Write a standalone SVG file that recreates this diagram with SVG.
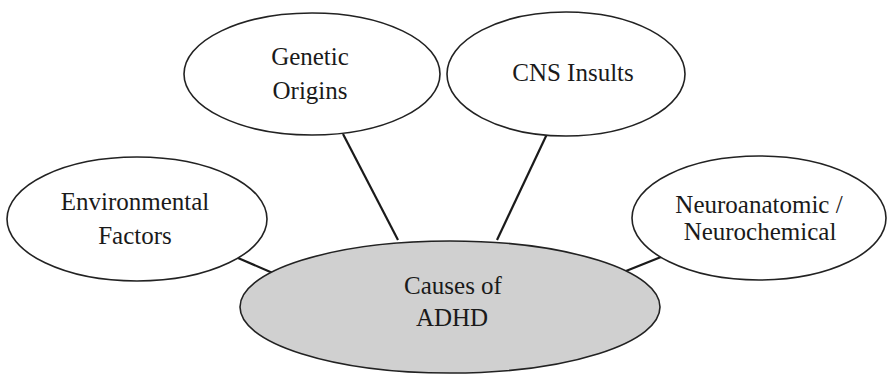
<svg xmlns="http://www.w3.org/2000/svg" width="887" height="374" viewBox="0 0 887 374">
  <style>
    .bubble { fill: #ffffff; stroke: #222222; stroke-width: 1.6; }
    .hub { fill: #d0d0d0; stroke: #222222; stroke-width: 1.6; }
    .link { stroke: #1a1a1a; stroke-width: 2.2; fill: none; }
    .label { font-family: "Times New Roman", Times, Tinos, "Noto Serif", "Liberation Serif", "DejaVu Serif", serif; font-size: 25px; fill: #1a1a1a; text-anchor: middle; }
  </style>
  <rect width="887" height="374" fill="#ffffff"/>

  <!-- spokes from the central cause to each factor -->
  <g id="connectors">
    <line class="link" x1="238" y1="258" x2="275" y2="274"/>
    <line class="link" x1="343" y1="134" x2="398" y2="240"/>
    <line class="link" x1="547" y1="134" x2="497" y2="240"/>
    <line class="link" x1="661" y1="257" x2="626" y2="271"/>
  </g>

  <g id="environmental">
    <ellipse class="bubble" cx="137" cy="219" rx="130" ry="62"/>
    <text class="label" x="135" y="210">Environmental</text>
    <text class="label" x="135" y="244">Factors</text>
  </g>

  <g id="genetic">
    <ellipse class="bubble" cx="312" cy="74" rx="128" ry="61"/>
    <text class="label" x="310" y="65">Genetic</text>
    <text class="label" x="310" y="99">Origins</text>
  </g>

  <g id="cns">
    <ellipse class="bubble" cx="566" cy="74" rx="119" ry="62"/>
    <text class="label" x="573" y="81">CNS Insults</text>
  </g>

  <g id="neuro">
    <ellipse class="bubble" cx="759" cy="218" rx="127" ry="62"/>
    <text class="label" x="759" y="213">Neuroanatomic /</text>
    <text class="label" x="760" y="240">Neurochemical</text>
  </g>

  <g id="causes">
    <ellipse class="hub" cx="450" cy="307" rx="210" ry="66"/>
    <text class="label" x="453" y="294">Causes of</text>
    <text class="label" x="452" y="326">ADHD</text>
  </g>
</svg>
